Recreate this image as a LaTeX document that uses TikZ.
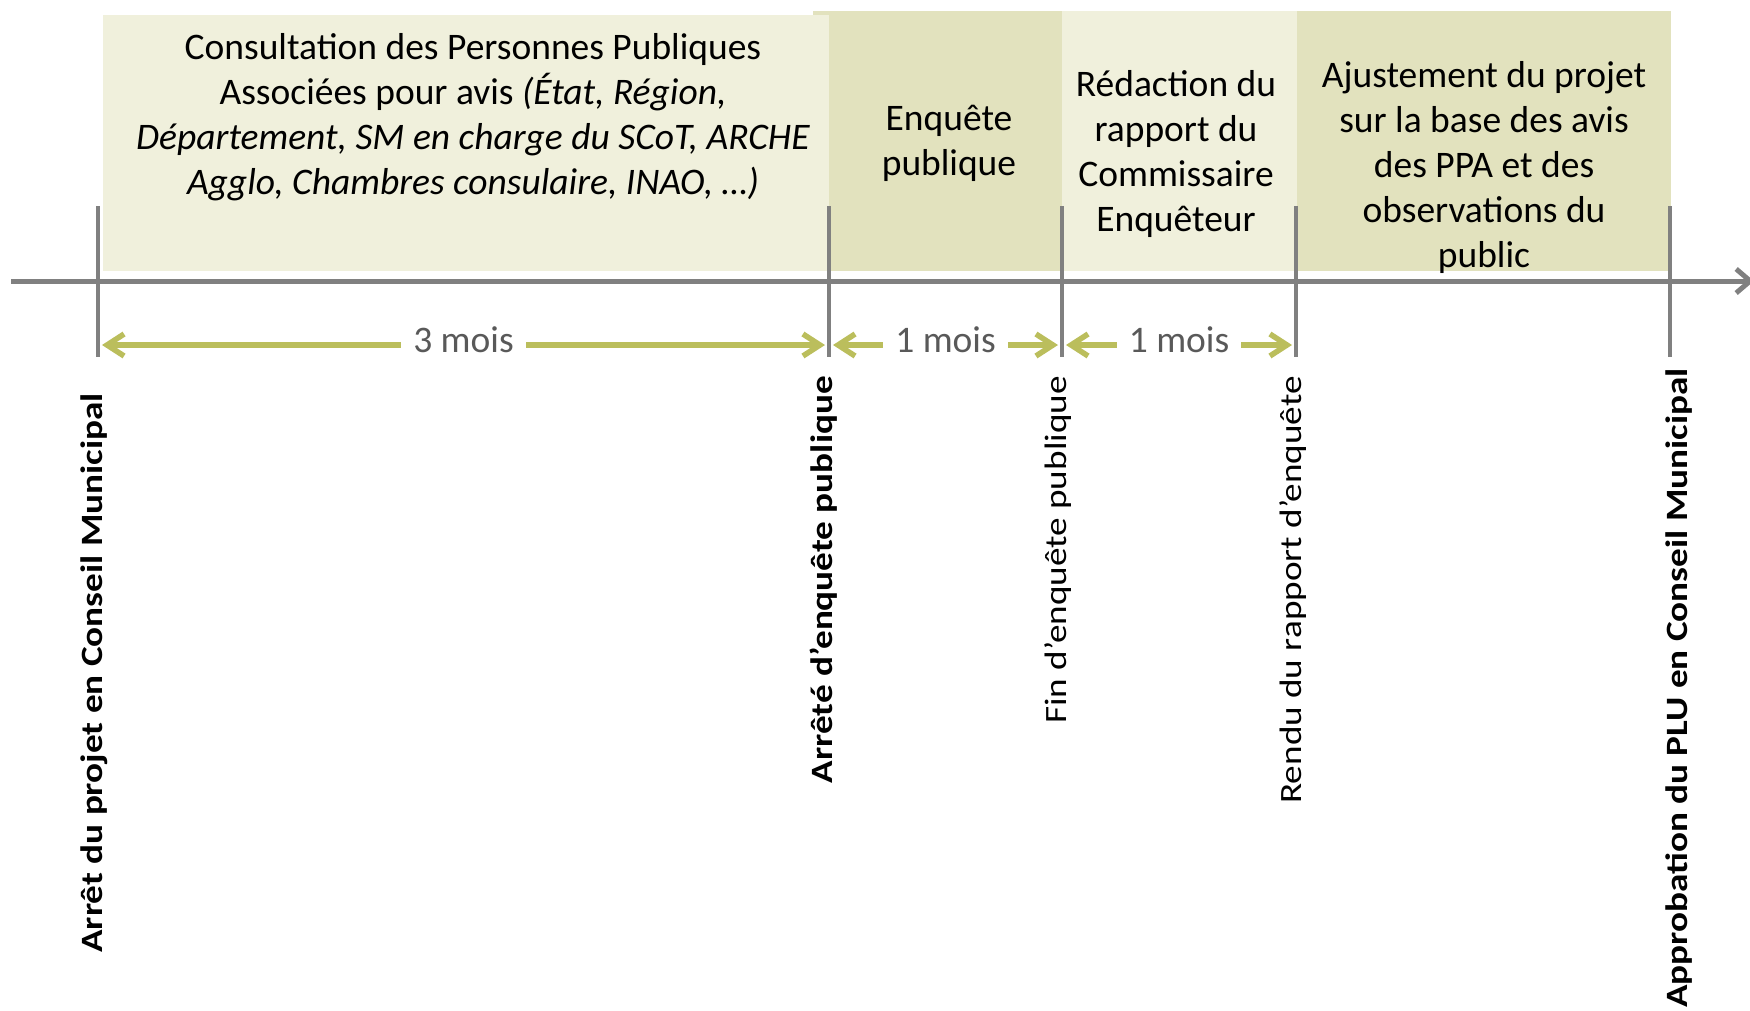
\documentclass[tikz,border=0pt]{standalone}
\usepackage{fontspec}
\setmainfont{Carlito}
\usetikzlibrary{arrows.meta}
\definecolor{boxlight}{RGB}{240,240,220}
\definecolor{boxdark}{RGB}{226,226,190}
\definecolor{axisgray}{RGB}{128,128,128}
\definecolor{spangreen}{RGB}{187,190,92}
\definecolor{spantext}{RGB}{89,89,89}
\newcommand{\widen}[1]{\scalebox{1.2}[1]{#1}}
\begin{document}
\begin{tikzpicture}[x=1pt,y=-1pt,
  phasetext/.style={align=center,inner sep=0pt,font=\fontsize{37.5}{45}\selectfont},
  milestone/.style={rotate=90,anchor=east,inner sep=0pt,font=\fontsize{31}{37}\selectfont},
  boldmilestone/.style={milestone,font=\fontsize{31}{37}\selectfont\bfseries},
  tick/.style={draw=axisgray,line width=4.5pt},
  barb/.tip={Straight Barb[length=17pt,width=22pt]},
  span/.style={draw=spangreen,line width=5.5pt,barb-barb,
    shorten <=4pt,shorten >=4pt},
  spanlabel/.style={fill=white,text=spantext,inner xsep=12pt,inner ysep=4pt,yshift=5pt,
    font=\fontsize{37.5}{42}\selectfont}]
\useasboundingbox (0,0) rectangle (1750,1010);

% phase backgrounds
\fill[boxdark]  (813,11) rectangle (1062,271);
\fill[boxlight] (1062,11) rectangle (1297,271);
\fill[boxdark]  (1297,11) rectangle (1671,271);
\fill[boxlight] (103,15) rectangle (829,271);

% phase descriptions
\node[phasetext] (ppa) at (473,117) {Consultation des Personnes Publiques\\
  Associées pour avis \textit{(État, Région,}\\
  \textit{Département, SM en charge du SCoT, ARCHE}\\
  \textit{Agglo, Chambres consulaire, INAO, …)}};
\node[phasetext] (enq) at (949,143) {Enquête\\publique};
\node[phasetext] (red) at (1176,154) {Rédaction du\\rapport du\\Commissaire\\Enquêteur};
\node[phasetext] (aju) at (1484,167) {Ajustement du projet\\sur la base des avis\\des PPA et des\\observations du\\public};

% time axis
\coordinate (start) at (11,281);
\coordinate (end) at (1754,281);
\draw[draw=axisgray,line width=5pt,-{Straight Barb[length=14pt,width=24pt]}] (start) -- (end);

% milestone ticks
\foreach \n/\x in {t1/98,t2/829,t3/1062,t4/1296,t5/1670}{
  \coordinate (\n) at (\x,281);
  \coordinate (\n a) at (\x,345);
  \draw[tick] (\x,206) -- (\x,357);
}

% durations
\draw[span] (t1a) -- node[spanlabel] (d1) {3 mois} (t2a);
\draw[span] (t2a) -- node[spanlabel] (d2) {1 mois} (t3a);
\draw[span] (t3a) -- node[spanlabel] (d3) {1 mois} (t4a);

% milestone labels
\node[boldmilestone] (m1) at (94,393) {\widen{Arrêt du projet en Conseil Municipal}};
\node[boldmilestone] (m2) at (824,376) {\widen{Arrêté d’enquête publique}};
\node[milestone] (m3) at (1058,376) {\widen{Fin d’enquête publique}};
\node[milestone] (m4) at (1293,376) {\widen{Rendu du rapport d’enquête}};
\node[boldmilestone] (m5) at (1679,368) {\widen{Approbation du PLU en Conseil Municipal}};
\end{tikzpicture}
\end{document}
